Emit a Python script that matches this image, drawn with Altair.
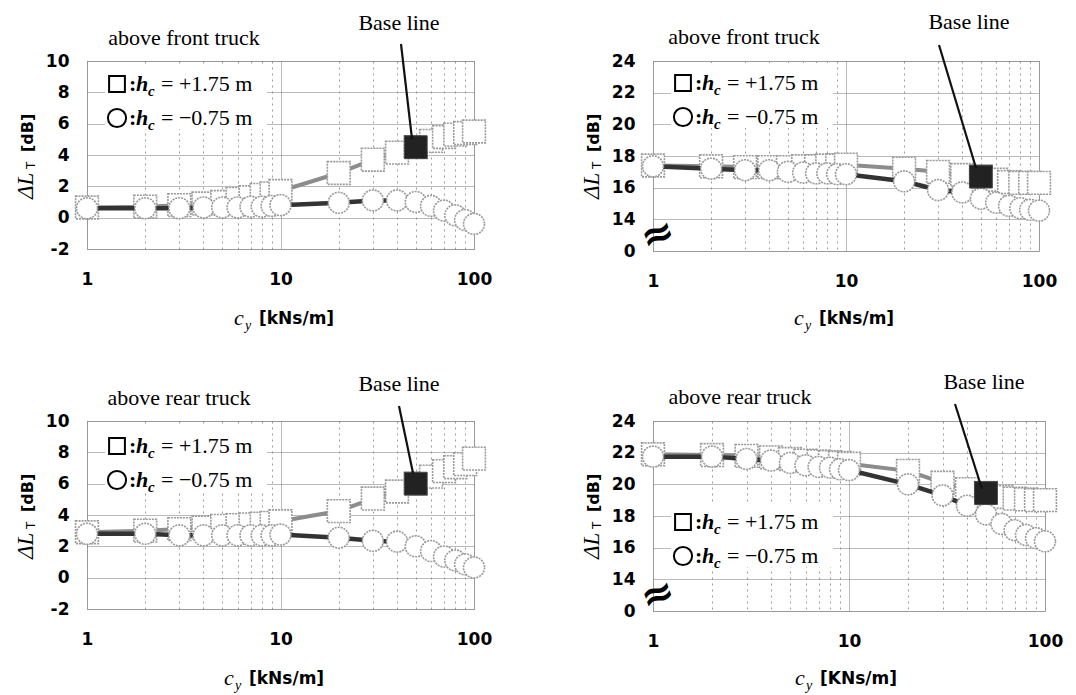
import altair as alt
import pandas as pd

# ---------------- data ----------------
cy = [1, 2, 3, 4, 5, 6, 7, 8, 9, 10, 20, 30, 40, 50, 60, 70, 80, 90, 100]
base_cy = 50  # base line value of c_y (filled square)

# above front truck, left panel
fl_sq = [0.65, 0.7, 0.8, 0.9, 1.0, 1.2, 1.3, 1.45, 1.55, 1.7, 2.85, 3.7, 4.15, 4.5, 4.9, 5.15, 5.3, 5.4, 5.5]
fl_ci = [0.6, 0.6, 0.6, 0.65, 0.65, 0.65, 0.7, 0.7, 0.75, 0.8, 0.95, 1.1, 1.1, 1.0, 0.75, 0.45, 0.15, -0.15, -0.4]
# above front truck, right panel
fr_sq = [17.4, 17.35, 17.3, 17.3, 17.3, 17.35, 17.35, 17.4, 17.4, 17.45, 17.2, 17.0, 16.8, 16.7, 16.5, 16.35, 16.3, 16.3, 16.3]
fr_ci = [17.35, 17.2, 17.1, 17.1, 17.0, 16.95, 16.9, 16.9, 16.85, 16.85, 16.4, 15.85, 15.7, 15.3, 15.05, 14.85, 14.7, 14.6, 14.55]
# above rear truck, left panel
rl_sq = [2.9, 3.0, 3.1, 3.2, 3.3, 3.35, 3.4, 3.45, 3.5, 3.6, 4.25, 5.05, 5.5, 6.0, 6.45, 6.8, 7.05, 7.25, 7.6]
rl_ci = [2.8, 2.8, 2.7, 2.7, 2.7, 2.7, 2.7, 2.7, 2.7, 2.75, 2.55, 2.35, 2.3, 2.0, 1.7, 1.35, 1.1, 0.85, 0.65]
# above rear truck, right panel
rr_sq = [21.9, 21.85, 21.8, 21.7, 21.6, 21.5, 21.45, 21.4, 21.35, 21.3, 20.85, 20.1, 19.7, 19.45, 19.2, 19.1, 19.05, 19.0, 19.0]
rr_ci = [21.75, 21.75, 21.6, 21.5, 21.35, 21.2, 21.1, 21.05, 20.95, 20.9, 20.0, 19.3, 18.65, 18.1, 17.5, 17.1, 16.8, 16.6, 16.4]

x_ticks = [1, 2, 3, 4, 5, 6, 7, 8, 9, 10, 20, 30, 40, 50, 60, 70, 80, 90, 100]
x_major = [1, 10, 100]
y_ticks_left = [-2, 0, 2, 4, 6, 8, 10]
y_ticks_right = [12, 14, 16, 18, 20, 22, 24]  # 12 is drawn as "0" (broken axis)

titles = ["above front truck", "above front truck", "above rear truck", "above rear truck"]
units = ["[kNs/m]", "[kNs/m]", "[kNs/m]", "[KNs/m]"]
legend_sq = "= +1.75 m"
legend_ci = "= \u22120.75 m"

SERIF = "Liberation Serif"
SANS = "DejaVu Sans"

one = pd.DataFrame({"k": [0]})


def txt(s, x, y, size=22, font=SERIF, style="normal", weight="normal", align="left",
        baseline="alphabetic", angle=0, dx=0, dy=0):
    kw = dict(font=font, fontSize=size, fontStyle=style, fontWeight=weight, align=align,
              baseline=baseline, color="black", dx=dx, dy=dy)
    if angle:
        kw["angle"] = angle
    return alt.Chart(one).mark_text(**kw).encode(
        x=alt.value(x), y=alt.value(y), text=alt.value(s))


def panel(sq, ci, left, W, H, title, title_xy, base_xy, arrow, leg_y, unit, cx, anchor=False):
    df_sq = pd.DataFrame({"cy": cy, "v": sq})
    df_ci = pd.DataFrame({"cy": cy, "v": ci})
    df_base = df_sq[df_sq["cy"] == base_cy]

    major_test = "indexof([1, 10, 100], datum.value) >= 0"
    xaxis = alt.Axis(values=x_ticks, labelExpr=major_test + " ? format(datum.value, 'd') : ''",
                     labelFlush=False, labelOverlap=False, labelPadding=22,
                     gridDash={"condition": {"test": major_test, "value": [1, 1]}, "value": [2, 4]},
                     gridColor={"condition": {"test": major_test, "value": "#777777"}, "value": "#9a9a9a"},
                     title=None)
    if left:
        ydom, yt = [-2, 10], y_ticks_left
        lexpr = "datum.value < 0 ? '-' + abs(datum.value) : datum.label"
    else:
        ydom, yt = [12, 24], y_ticks_right
        lexpr = "datum.value == 12 ? '0' : datum.label"
    yaxis = alt.Axis(values=yt, labelExpr=lexpr, labelPadding=18, gridDash=[1, 1],
                     gridColor="#777777", title=None)
    X = alt.X("cy:Q", scale=alt.Scale(type="log", domain=[1, 100]), axis=xaxis)
    Y = alt.Y("v:Q", scale=alt.Scale(domain=ydom, nice=False, zero=False), axis=yaxis)

    layers = []
    # legend background
    layers.append(alt.Chart(one).mark_rect(fill="white").encode(
        x=alt.value(18), x2=alt.value(180), y=alt.value(leg_y - 20), y2=alt.value(leg_y + 11 + 34)))
    layers.append(alt.Chart(df_sq).mark_line(color="#8c8c8c", strokeWidth=4).encode(X, Y))
    layers.append(alt.Chart(df_sq).mark_point(shape="square", size=520, filled=True, fill="white",
                                              stroke="#9a9a9a", strokeWidth=1.6, strokeDash=[2, 1],
                                              opacity=1).encode(X, Y))
    layers.append(alt.Chart(df_ci).mark_line(color="#333333", strokeWidth=4.5).encode(X, Y))
    layers.append(alt.Chart(df_ci).mark_point(shape="circle", size=440, filled=True, fill="white",
                                              stroke="#9a9a9a", strokeWidth=1.6, strokeDash=[2, 1],
                                              opacity=1).encode(X, Y))
    layers.append(alt.Chart(df_base).mark_point(shape="square", size=520, filled=True, fill="#222222",
                                                stroke="#444444", strokeWidth=1, opacity=1).encode(X, Y))
    # arrow from "Base line"
    layers.append(alt.Chart(one).mark_rule(color="#111111", strokeWidth=2.2).encode(
        x=alt.value(arrow[0]), y=alt.value(arrow[1]), x2=alt.value(arrow[2]), y2=alt.value(arrow[3])))
    layers.append(txt("Base line", base_xy[0], base_xy[1], align="center", baseline="middle"))
    layers.append(txt(title, title_xy[0], title_xy[1], align="center", baseline="middle"))

    # legend
    for i, (shape, size, lab) in enumerate([("square", 250, legend_sq), ("circle", 330, legend_ci)]):
        ly = leg_y + i * 34
        layers.append(alt.Chart(one).mark_point(shape=shape, size=size, filled=True, fill="white",
                                                stroke="black", strokeWidth=2, opacity=1).encode(
            x=alt.value(30), y=alt.value(ly)))
        layers.append(txt(":", 42, ly, baseline="middle", weight="bold"))
        layers.append(txt("h", 49, ly, baseline="middle", style="italic", weight="bold"))
        layers.append(txt("c", 61, ly + 7, size=15, baseline="middle", style="italic", weight="bold"))
        layers.append(txt(lab, 74, ly, baseline="middle"))

    # x axis title
    layers.append(txt("c", cx, 264, size=22, style="italic"))
    layers.append(txt("y", cx + 11, 269, size=14, style="italic"))
    layers.append(txt(unit, cx + 25, 263, size=17, font=SANS, weight="bold"))

    # y axis title (rotated)
    layers.append(txt("\u0394L", -54, 138, size=23, style="italic", angle=270))
    layers.append(txt("T", -54, 138, size=12, font=SANS, angle=270, dx=30, dy=2))
    layers.append(txt("[dB]", -54, 138, size=16, font=SANS, weight="bold", angle=270, dx=47))

    if not left:
        layers.append(txt("\u2248", 5, H - 16, size=40, font=SANS, weight="bold", align="center",
                          baseline="middle", angle=340))
    if anchor:
        layers.append(alt.Chart(one).mark_point(size=1, opacity=0).encode(
            x=alt.value(-85.5), y=alt.value(-59.5)))

    return alt.layer(*layers).properties(width=W, height=H)


p1 = panel(fl_sq, fl_ci, True, 387, 188, titles[0], (97, -23), (312, -38), (314, -17, 325, 78),
           23, units[0], 147, anchor=True)
p2 = panel(fr_sq, fr_ci, False, 386, 190, titles[1], (91, -24), (316, -39), (286, -16, 323, 107),
           22, units[1], 141)
p3 = panel(rl_sq, rl_ci, True, 387, 188, titles[2], (92, -23), (312, -37), (312, -15, 326, 52),
           25, units[2], 137)
p4 = panel(rr_sq, rr_ci, False, 392, 190, titles[3], (87, -24), (331, -39), (302, -17, 329, 68),
           101, units[3], 142)

chart = alt.concat(p1, p2, p3, p4, columns=2, spacing={"row": 170, "column": 179},
                   bounds="flush").properties(padding=0)
chart = chart.configure_view(stroke="#777777", strokeDash=[1, 1], strokeWidth=1).configure_axis(
    domain=False, ticks=False, tickSize=0, labelFont=SANS, labelFontWeight="bold",
    labelFontSize=17, labelColor="black", grid=True, gridWidth=1, gridOpacity=1)

chart.save("out.html", embed_options={"renderer": "svg", "actions": False})
